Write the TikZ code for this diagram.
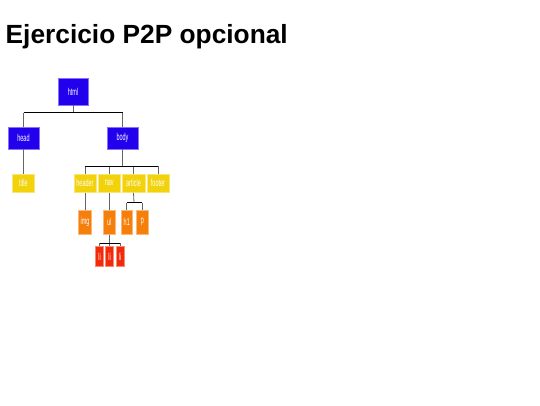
\documentclass[tikz,border=0pt]{standalone}
\usepackage{graphicx}
\usepackage{fontspec}
\setmainfont{Liberation Sans}
\definecolor{cblue}{RGB}{34,0,238}
\definecolor{cyel}{RGB}{242,210,10}
\definecolor{corg}{RGB}{245,127,10}
\definecolor{cred}{RGB}{242,42,10}
\newcommand\nt[1]{\scalebox{0.55}[1]{#1}}
\tikzset{
  box/.style={inner sep=0pt, text=white, font=\fontsize{10}{10}\selectfont, line width=0.7pt},
  bl/.style={box, fill=cblue, draw=cblue!55!white},
  ye/.style={box, fill=cyel, draw=cyel!55!white},
  og/.style={box, fill=corg, draw=corg!55!white},
  rd/.style={box, fill=cred, draw=cred!55!white},
  hline/.style={draw=black, line width=0.9pt},
  vline/.style={draw=gray!80!black, line width=0.8pt},
}
\begin{document}
\begin{tikzpicture}[x=1pt,y=-1pt]
\useasboundingbox[fill=white] (0,0) rectangle (540,405);
\node[anchor=base west, inner sep=0pt, font=\fontsize{26.3}{26.3}\selectfont\bfseries] (ttl) at (5.5,43.3) {Ejercicio P2P opcional};

\node[bl, minimum width=30pt, minimum height=27pt] (html) at (73,91.5) {\nt{html}};
\node[bl, minimum width=31pt, minimum height=22pt] (head) at (23.5,138) {\nt{head}};
\node[bl, minimum width=31pt, minimum height=22pt] (body) at (122.5,138) {\nt{body}};

\node[ye, minimum width=22.6pt, minimum height=18.5pt] (title) at (23.5,183.3) {\nt{title}};
\node[ye, minimum width=22pt, minimum height=18.5pt] (header) at (85,183.3) {\nt{header}};
\node[ye, minimum width=21.7pt, minimum height=18.5pt] (nav) at (109.2,183.3) {\nt{nav}};
\node[ye, minimum width=23pt, minimum height=18.5pt] (article) at (133.5,183.3) {\nt{article}};
\node[ye, minimum width=22pt, minimum height=18.5pt] (footer) at (158,183.3) {\nt{footer}};

\node[og, minimum width=13pt, minimum height=24.3pt] (img) at (85,222.2) {\nt{img}};
\node[og, minimum width=11.7pt, minimum height=24.3pt] (ul) at (109.2,222.2) {\nt{ul}};
\node[og, minimum width=11.7pt, minimum height=24.3pt] (h1) at (126.8,222.2) {\nt{h1}};
\node[og, minimum width=12.7pt, minimum height=24.3pt] (p) at (142.3,222.2) {\nt{p}};

\node[rd, minimum width=7.6pt, minimum height=20pt] (li1) at (99.5,256.7) {\nt{li}};
\node[rd, minimum width=7.6pt, minimum height=20pt] (li2) at (109.5,256.7) {\nt{li}};
\node[rd, minimum width=8pt, minimum height=20pt] (li3) at (120,256.7) {\nt{li}};

% html -> head, body
\coordinate (b1) at (73,112.7);
\draw[vline] (html.south) -- (b1);
\draw[vline] (head.north) -- (head.north |- b1);
\draw[vline] (body.north) -- (body.north |- b1);
\draw[hline] (head.north |- b1) -- (body.north |- b1);
% head -> title
\draw[vline] (head.south) -- (title.north);
% body -> header, nav, article, footer
\coordinate (b2) at (122.5,166.3);
\draw[vline] (body.south) -- (b2);
\foreach \c in {header,nav,article,footer}{\draw[vline] (\c.north) -- (\c.north |- b2);}
\draw[hline] (header.north |- b2) -- (footer.north |- b2);
% header -> img, nav -> ul
\draw[vline] (header.south) -- (img.north);
\draw[vline] (nav.south) -- (ul.north);
% article -> h1, p
\coordinate (b3) at (134,202.7);
\draw[vline] (article.south) -- (b3);
\draw[vline] (h1.north) -- (h1.north |- b3);
\draw[vline] (p.north) -- (p.north |- b3);
\draw[hline] (h1.north |- b3) -- (p.north |- b3);
% ul -> li
\coordinate (b4) at (109.2,243.3);
\draw[vline] (ul.south) -- (b4);
\foreach \c in {li1,li2,li3}{\draw[vline] (\c.north) -- (\c.north |- b4);}
\draw[hline] (li1.north |- b4) -- (li3.north |- b4);
\end{tikzpicture}
\end{document}
